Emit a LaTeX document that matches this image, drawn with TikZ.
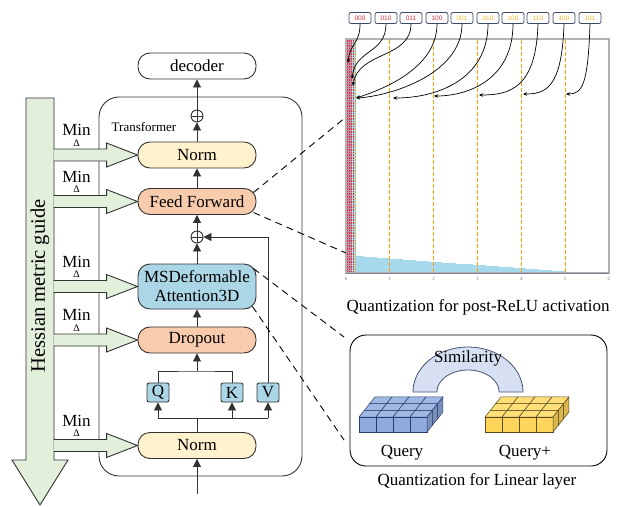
\documentclass[tikz,border=0pt]{standalone}
\usepackage{fontspec}
\setmainfont{Liberation Serif}
\newfontfamily\codefont{Liberation Sans}
\usetikzlibrary{arrows.meta,positioning,calc}
\definecolor{edgegray}{RGB}{50,50,50}
\definecolor{normyellow}{RGB}{255,242,204}
\definecolor{ffpeach}{RGB}{248,203,173}
\definecolor{attnblue}{RGB}{170,214,230}
\definecolor{guidegreen}{RGB}{226,239,218}
\definecolor{histblue}{RGB}{166,217,236}
\definecolor{binorange}{RGB}{255,160,0}
\definecolor{binyellow}{RGB}{242,185,40}
\definecolor{binred}{RGB}{225,45,60}
\definecolor{stripmauve}{RGB}{185,150,170}
\definecolor{binedge}{RGB}{60,74,102}
\definecolor{qblue}{RGB}{143,170,220}
\definecolor{qbluetop}{RGB}{160,185,228}
\definecolor{qedge}{RGB}{40,60,110}
\definecolor{qyellow}{RGB}{255,214,90}
\definecolor{qyellowtop}{RGB}{255,224,120}
\definecolor{yedge}{RGB}{90,75,30}
\definecolor{simfill}{RGB}{214,224,242}
\definecolor{simedge}{RGB}{70,85,115}

\begin{document}
\begin{tikzpicture}[x=1pt,y=-1pt,
  every node/.style={font=\fontsize{17}{19}\selectfont,inner sep=1pt},
  block/.style={draw=edgegray,line width=0.9pt,rounded corners=12pt,minimum width=118pt,minimum height=26pt,align=center},
  qkv/.style={draw=edgegray,fill=attnblue,line width=0.9pt,rounded corners=2pt,minimum width=22pt,minimum height=19pt,inner sep=0pt},
  addop/.style={circle,draw=edgegray,fill=white,line width=0.9pt,minimum size=12pt,inner sep=0pt,
    path picture={\draw[line width=0.9pt] (path picture bounding box.north) -- (path picture bounding box.south)
      (path picture bounding box.west) -- (path picture bounding box.east);}},
  flow/.style={-{Triangle[width=8pt,length=8pt]},line width=0.9pt,draw=edgegray},
  guidearr/.style={draw=edgegray,fill=guidegreen,line width=0.9pt},
  link/.style={line width=0.9pt,dash pattern=on 7pt off 5pt},
  binlbl/.style={draw=binedge,fill=white,line width=0.8pt,rounded corners=2pt,minimum width=22pt,minimum height=11pt,inner sep=0pt,font=\codefont\fontsize{6.5}{6.5}\selectfont},
  binarrow/.style={-{Stealth[length=4pt,width=3.5pt]},line width=0.7pt}]
  \useasboundingbox (0,0) rectangle (621,506);

  % Transformer frame
  \draw[edgegray,line width=0.9pt,rounded corners=20pt] (99,97) rectangle (302,476);
  \node[font=\fontsize{13}{15}\selectfont] (tflabel) at (144,127) {Transformer};

  % Blocks
  \node[block,fill=white] (decoder) at (197,66) {decoder};
  \node[block,fill=normyellow] (normtop) at (197,155) {Norm};
  \node[block,fill=ffpeach] (ffwd) at (197,201.5) {Feed Forward};
  \node[block,fill=attnblue,minimum height=45pt] (msda) at (197,286.5) {MSDeformable\\Attention3D};
  \node[block,fill=ffpeach] (drop) at (197,340) {Dropout};
  \node[block,fill=normyellow] (normbot) at (197,445.5) {Norm};
  \node[addop] (addtop) at (197,116) {};
  \node[addop] (addmid) at (197,237) {};
  \node[qkv] (q) at (158,392.5) {Q};
  \node[qkv] (k) at (232,392.5) {K};
  \node[qkv] (v) at (268,392.5) {V};

  % Data flow
  \coordinate (input) at (197,494);
  \coordinate (split) at (197,418);
  \coordinate (merge) at (197,371);
  \draw[flow] (input) -- (normbot);
  \draw[line width=0.9pt,edgegray] (normbot.north) -- (split);
  \draw[line width=0.9pt,edgegray] (q.south |- split) -- (v.south |- split);
  \foreach \n in {q,k,v}
    \draw[flow] (\n.south |- split) -- (\n.south);
  \draw[line width=0.9pt,edgegray] (q.north) |- (merge) -| (k.north);
  \draw[flow] (merge) -- (drop);
  \draw[flow] (drop) -- (msda);
  \draw[flow] (msda) -- (addmid);
  \draw[flow] (v.north) |- (addmid);
  \draw[flow] (addmid) -- (ffwd);
  \draw[flow] (ffwd) -- (normtop);
  \draw[flow] (normtop) -- (addtop);
  \draw[flow] (addtop) -- (decoder);

  % Hessian guide
  \draw[guidearr] (26,98) -- (54,98) -- (54,460) -- (68,460) -- (40,505) -- (12,460) -- (26,460) -- cycle;
  \node[rotate=90,font=\fontsize{20.5}{22}\selectfont] (guidetxt) at (40,286) {Hessian metric guide};
  \foreach \blk in {normtop,ffwd,msda,drop,normbot}{
    \draw[guidearr] ($(\blk.west)+(-84,-6)$) -- ($(\blk.west)+(-31,-6)$) -- ($(\blk.west)+(-31,-12)$)
      -- (\blk.west) -- ($(\blk.west)+(-31,12)$) -- ($(\blk.west)+(-31,6)$) -- ($(\blk.west)+(-84,6)$);
    \node (min-\blk) at ($(\blk.west)+(-61,-25)$) {Min};
    \node[font=\fontsize{10}{10}\selectfont,inner sep=0pt] (delta-\blk) at ($(\blk.west)+(-61,-12)$) {Δ};
  }

  % Activation histogram
  \def\xo{346}
  \def\yb{273}
  \def\ux{43.83}
  \fill[stripmauve] (346,40) rectangle (352,\yb);
  \fill[histblue] (352,40) rectangle (355.5,\yb);
  \foreach \sx in {347.2,349.2,351.2,353.2}
    \draw[binred,line width=0.6pt,dash pattern=on 1.6pt off 1pt] (\sx,40) -- (\sx,\yb);
  \foreach \u in {0.2,0.3,...,5.95}{
    \pgfmathsetmacro{\hh}{max(0.4,17.5-3.2*\u)}
    \fill[histblue] ({\xo+\u*\ux},\yb) rectangle ({\xo+(\u+0.1)*\ux},{\yb-\hh});
  }
  \draw[binorange,line width=0.9pt,dash pattern=on 2pt off 1.5pt] (355.8,40) -- (355.8,\yb);
  \foreach \t in {1,...,5}
    \draw[binorange,line width=1.1pt,dash pattern=on 4pt off 2pt] ({\xo+\t*\ux},40) -- ({\xo+\t*\ux},\yb);
  \draw[gray!60,line width=1.3pt] (346,39) rectangle (609,\yb);
  \draw[binedge!70,line width=0.8pt] (346,\yb) -- (609,\yb);
  \foreach \t in {0,...,6}
    \node[font=\fontsize{5}{5}\selectfont,text=gray,inner sep=0pt] (tick-\t) at ({\xo+\t*\ux},279) {\t};

  % Bit codes
  \foreach \bx/\code/\col [count=\i] in {360/000/binred,386/010/binred,411/011/binred,437/100/binred,
      462/001/binyellow,488/010/binyellow,513/100/binyellow,538/110/binyellow,564/100/binyellow,590/101/binyellow}
    \node[binlbl,text=\col] (bin\i) at (\bx,18) {\code};
  \foreach \i/\tx/\ty/\ax/\ay/\bx/\by in {1/348/63/0/20/2/-20, 2/352/79/0/30/3/-30, 3/353/86/0/35/5/-35,
      4/356/98/0/45/25/-8, 5/356/98/0/50/35/-2, 6/393/98/0/55/45/0, 7/434/96/0/55/35/0,
      8/479/95/-2/65/30/0, 9/523/94/-2/65/22/0, 10/566/94/-2/62/16/0}{
    \coordinate (hit\i) at (\tx,\ty);
    \draw[binarrow] (bin\i.south) .. controls +(\ax,\ay) and +(\bx,\by) .. (hit\i);
  }
  \node (actcap) at (478,307) {Quantization for post-ReLU activation};

  % Linear layer panel
  \node[draw=black,line width=0.9pt,rounded corners=16pt,minimum width=257pt,minimum height=131pt] (linbox) at (478.5,400.5) {};
  \filldraw[fill=simfill,draw=simedge,line width=0.8pt]
    plot[domain=180:0,samples=40] ({468+55*cos(\x)},{392-45*sin(\x)})
    -- plot[domain=0:180,samples=40] ({468+31*cos(\x)},{392-22*sin(\x)}) -- cycle;
  \node (simtxt) at (468,358) {Similarity};
  \def\cw{17}
  \def\ch{15}
  \def\dx{5.33}
  \def\dy{-6.67}
  \foreach \sx/\sfront/\stop/\sedge in {359/qblue/qbluetop/qedge,485/qyellow/qyellowtop/yedge}{
    \foreach \r in {0,1,2}\foreach \c in {0,...,3}
      \filldraw[fill=\stop,draw=\sedge,line width=0.5pt] ({\sx+\c*\cw+\r*\dx},{432-\ch+\r*\dy}) -- ++(\cw,0) -- ++(\dx,\dy) -- ++(-\cw,0) -- cycle;
    \foreach \c in {0,...,3}
      \filldraw[fill=\sfront,draw=\sedge,line width=0.5pt] ({\sx+\c*\cw},432) rectangle ++(\cw,-\ch);
    \foreach \r in {0,1,2}
      \filldraw[fill=\sfront!85!black,draw=\sedge,line width=0.5pt] ({\sx+4*\cw+\r*\dx},{432+\r*\dy}) -- ++(\dx,\dy) -- ++(0,-\ch) -- ++(-\dx,-\dy) -- cycle;
  }
  \node (querytxt) at (402,453) {Query};
  \node (queryptxt) at (525,453) {Query+};
  \node (lincap) at (477,481) {Quantization for Linear layer};

  % Zoom-in links
  \coordinate (actin) at (346,117);
  \coordinate (actout) at (346,253);
  \coordinate (linin) at (344,337);
  \coordinate (linout) at (344,440);
  \draw[link] ($(ffwd.east)+(-3,-9)$) -- (actin);
  \draw[link] ($(ffwd.east)+(-3,11)$) -- (actout);
  \draw[link] ($(msda.east)+(-3,-18)$) -- (linin);
  \draw[link] ($(msda.east)+(-4,20)$) -- (linout);
\end{tikzpicture}
\end{document}
